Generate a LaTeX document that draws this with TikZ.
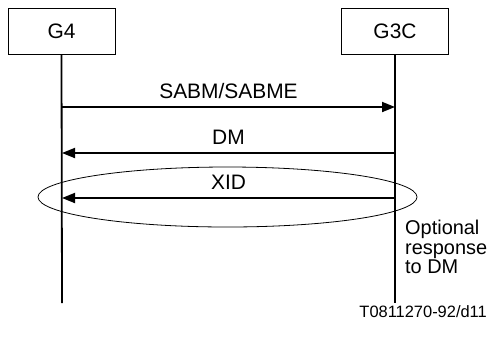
\documentclass[tikz,border=0pt]{standalone}
\usepackage{fontspec}
\setmainfont{Liberation Sans}
\usetikzlibrary{arrows.meta,positioning}
\tikzset{
  entity/.style={draw, line width=0.8bp, minimum width=107bp, minimum height=46bp, inner sep=0pt, font=\fontsize{21}{21}\selectfont},
  lifeline/.style={line width=1.8bp},
  message/.style={line width=1.8bp, -{Triangle[length=13bp,width=10bp]}},
  msglabel/.style={above=4bp, font=\fontsize{21}{21}\selectfont}
}

\begin{document}
\begin{tikzpicture}[x=1bp, y=-1bp]
\useasboundingbox (0,0) rectangle (493,342);

\node[entity] (g4) at (61.5,31) {G4};
\node[entity] (g3c) at (395,31) {G3C};

\coordinate (g4 end) at (62,303);
\coordinate (g3c end) at (395,303);
\draw[lifeline] (g4.south) -- (g4 end);
\draw[lifeline] (g3c.south) -- (g3c end);

% message heights on each lifeline
\coordinate (g4 sabm) at (62,107);
\coordinate (g3c sabm) at (395,107);
\coordinate (g4 dm) at (62,153);
\coordinate (g3c dm) at (395,153);
\coordinate (g4 xid) at (62,198);
\coordinate (g3c xid) at (395,198);

\draw[message] (g4 sabm) -- node[msglabel] {SABM/SABME} (g3c sabm);
\draw[message] (g3c dm) -- node[msglabel] {DM} (g4 dm);
\draw[message] (g3c xid) -- node[msglabel] {XID} (g4 xid);

\draw[line width=0.8bp] (227.5,197) ellipse [x radius=189.5, y radius=30];
\node[anchor=north west, align=left, inner sep=0pt, font=\fontsize{20}{19.5}\selectfont] (optional) at (405,220) {Optional\\response\\to DM};

\node[anchor=base east, inner sep=0pt, font=\fontsize{16.5}{17}\selectfont] (ref) at (487,317) {T0811270-92/d11};
\end{tikzpicture}
\end{document}
